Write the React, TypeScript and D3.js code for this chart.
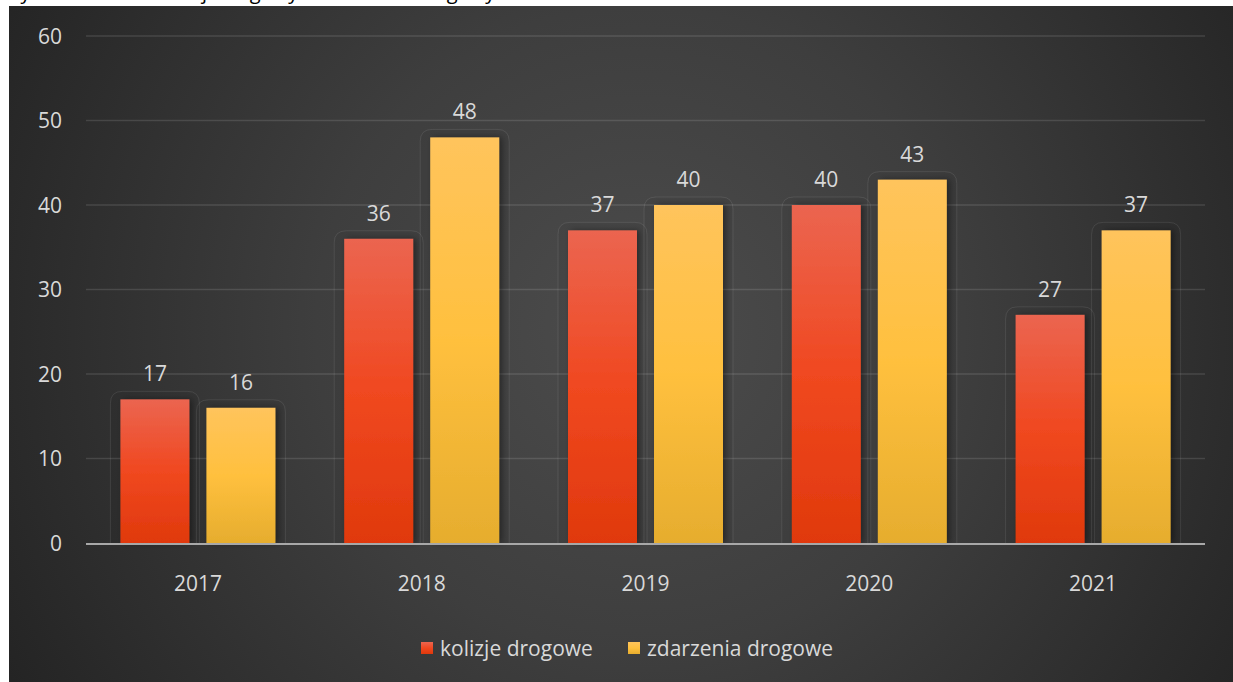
import { useRef, useEffect } from 'react';
import * as d3 from 'd3';

const years = ['2017', '2018', '2019', '2020', '2021'];
const series = ['kolizje drogowe', 'zdarzenia drogowe'];
const kolizje = [17, 36, 37, 40, 27];
const zdarzenia = [16, 48, 40, 43, 37];
const yTicks = [0, 10, 20, 30, 40, 50, 60];

const W = 1233;
const H = 682;
const FONT = '"Open Sans", "DejaVu Sans", sans-serif';

export default function App() {
    const svgRef = useRef<SVGSVGElement>(null);

    useEffect(() => {
        if (!svgRef.current) return;
        const svg = d3.select(svgRef.current);
        svg.selectAll('*').remove();

        const defs = svg.append('defs');

        const bg = defs.append('radialGradient')
            .attr('id', 'bg')
            .attr('gradientUnits', 'userSpaceOnUse')
            .attr('cx', 640).attr('cy', 330).attr('r', 720);
        bg.append('stop').attr('offset', '0%').attr('stop-color', '#4c4c4c');
        bg.append('stop').attr('offset', '45%').attr('stop-color', '#3e3e3e');
        bg.append('stop').attr('offset', '100%').attr('stop-color', '#242424');

        const red = defs.append('linearGradient').attr('id', 'gRed')
            .attr('x1', 0).attr('y1', 0).attr('x2', 0).attr('y2', 1);
        red.append('stop').attr('offset', '0%').attr('stop-color', '#eb6550');
        red.append('stop').attr('offset', '50%').attr('stop-color', '#f04820');
        red.append('stop').attr('offset', '100%').attr('stop-color', '#e0390c');

        const yel = defs.append('linearGradient').attr('id', 'gYel')
            .attr('x1', 0).attr('y1', 0).attr('x2', 0).attr('y2', 1);
        yel.append('stop').attr('offset', '0%').attr('stop-color', '#ffc45c');
        yel.append('stop').attr('offset', '50%').attr('stop-color', '#ffc03e');
        yel.append('stop').attr('offset', '100%').attr('stop-color', '#e6ad2e');

        const shadow = defs.append('filter').attr('id', 'sh')
            .attr('x', '-20%').attr('y', '-20%').attr('width', '150%').attr('height', '140%');
        shadow.append('feGaussianBlur').attr('in', 'SourceAlpha').attr('stdDeviation', 3).attr('result', 'b');
        shadow.append('feOffset').attr('in', 'b').attr('dx', 3).attr('dy', 0).attr('result', 'o');
        shadow.append('feComponentTransfer').attr('in', 'o').attr('result', 'o2')
            .append('feFuncA').attr('type', 'linear').attr('slope', 0.4);
        const merge = shadow.append('feMerge');
        merge.append('feMergeNode').attr('in', 'o2');
        merge.append('feMergeNode').attr('in', 'SourceGraphic');

        // caption above the chart, cut off by the page top
        svg.append('text')
            .attr('x', 2).attr('y', -1)
            .attr('font-family', '"Open Sans", sans-serif')
            .attr('font-size', 20)
            .attr('fill', '#000')
            .text('Wykres 1. Liczba kolizji drogowych i zdarzeń drogowych w latach 2017–2021');

        svg.append('rect')
            .attr('x', 9).attr('y', 6).attr('width', W - 9).attr('height', H - 6)
            .attr('fill', 'url(#bg)');

        const x0 = d3.scaleBand<string>().domain(years).range([86, 1205]).padding(0);
        const x1 = d3.scaleBand<string>().domain(series).range([0, x0.bandwidth()])
            .paddingInner(0.198).paddingOuter(0.4);
        const y = d3.scaleLinear().domain([0, 60]).range([543, 36]);

        // gridlines
        svg.append('g').selectAll('line')
            .data(yTicks.filter(t => t > 0))
            .enter().append('line')
            .attr('x1', 86).attr('x2', 1205)
            .attr('y1', d => y(d)).attr('y2', d => y(d))
            .attr('stroke', 'rgba(255,255,255,0.12)').attr('stroke-width', 1.5);

        // y labels
        svg.append('g').selectAll('text')
            .data(yTicks)
            .enter().append('text')
            .attr('x', 62).attr('y', d => y(d))
            .attr('dy', '0.36em')
            .attr('text-anchor', 'end')
            .attr('font-family', FONT).attr('font-size', 21)
            .attr('fill', '#d9d9d9')
            .text(d => d);

        const groups = svg.append('g').selectAll('g')
            .data(years)
            .enter().append('g')
            .attr('transform', d => `translate(${x0(d)},0)`);

        const rows = (i: number) => [
            { key: series[0], v: kolizje[i], fill: 'url(#gRed)' },
            { key: series[1], v: zdarzenia[i], fill: 'url(#gYel)' },
        ];

        groups.each(function (yr, i) {
            const g = d3.select(this);
            rows(i).forEach(r => {
                const bx = x1(r.key)!;
                const bw = x1.bandwidth();
                const top = y(r.v);
                // soft outline
                g.append('path')
                    .attr('d', () => {
                        const l = bx - 10, rr = bx + bw + 10, t = top - 8, b = y(0), c = 12;
                        return `M${l},${b} L${l},${t + c} Q${l},${t} ${l + c},${t} L${rr - c},${t} Q${rr},${t} ${rr},${t + c} L${rr},${b}`;
                    })
                    .attr('fill', 'rgba(0,0,0,0.03)')
                    .attr('stroke', 'rgba(255,255,255,0.09)')
                    .attr('stroke-width', 1);
                g.append('rect')
                    .attr('x', bx).attr('y', top)
                    .attr('width', bw).attr('height', y(0) - top)
                    .attr('fill', r.fill)
                    .attr('filter', 'url(#sh)');
                g.append('text')
                    .attr('x', bx + bw / 2).attr('y', top - 18)
                    .attr('text-anchor', 'middle')
                    .attr('font-family', FONT).attr('font-size', 21)
                    .attr('fill', '#d9d9d9')
                    .text(r.v);
            });
        });

        // axis line
        svg.append('line')
            .attr('x1', 86).attr('x2', 1205)
            .attr('y1', y(0) + 1).attr('y2', y(0) + 1)
            .attr('stroke', '#a8a8a8').attr('stroke-width', 2);

        // x labels
        svg.append('g').selectAll('text')
            .data(years)
            .enter().append('text')
            .attr('x', d => x0(d)! + x0.bandwidth() / 2)
            .attr('y', 583).attr('dy', '0.36em')
            .attr('text-anchor', 'middle')
            .attr('font-family', FONT).attr('font-size', 21)
            .attr('fill', '#d9d9d9')
            .text(d => d);

        // legend
        const legend = [
            { name: series[0], x: 421, fill: 'url(#gRed)' },
            { name: series[1], x: 628, fill: 'url(#gYel)' },
        ];
        const lg = svg.append('g');
        legend.forEach(l => {
            lg.append('rect')
                .attr('x', l.x).attr('y', 642).attr('width', 12).attr('height', 12)
                .attr('fill', l.fill);
            lg.append('text')
                .attr('x', l.x + 19).attr('y', 648).attr('dy', '0.36em')
                .attr('font-family', FONT).attr('font-size', 21)
                .attr('fill', '#d9d9d9')
                .text(l.name);
        });
    }, []);

    return (
        <svg
            ref={svgRef}
            width={W}
            height={H}
            style={{ position: 'fixed', left: 0, top: 0, display: 'block', background: '#fff' }}
        />
    );
}
